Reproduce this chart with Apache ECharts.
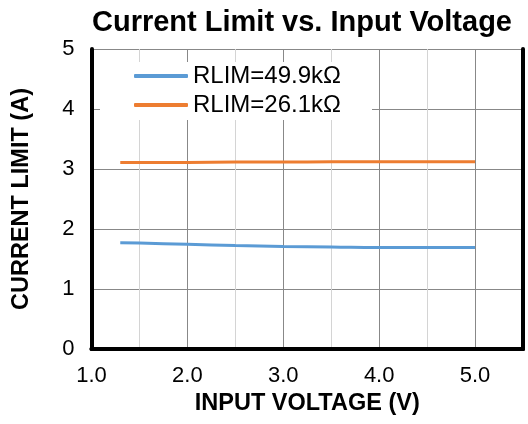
<!DOCTYPE html>
<html>
<head>
<meta charset="utf-8">
<script src="https://cdn.jsdelivr.net/npm/echarts@6/dist/echarts.min.js"></script>
<style>
  html, body { margin: 0; padding: 0; background: #fff; }
  #chart { width: 528px; height: 424px; }
</style>
</head>
<body>
<div id="chart"></div>
<script>
var vin = [1.3, 1.5, 2.0, 2.5, 3.0, 3.5, 4.0, 4.5, 5.0];
var rlim499 = [1.77, 1.765, 1.745, 1.725, 1.71, 1.70, 1.69, 1.69, 1.69];
var rlim261 = [3.11, 3.11, 3.11, 3.115, 3.115, 3.12, 3.12, 3.12, 3.12];
var seriesNames = ['RLIM=49.9kΩ', 'RLIM=26.1kΩ'];

var font = 'Liberation Sans, Arial, sans-serif';
var frame = { show: true, lineStyle: { color: '#000', width: 4 } };

function pairs(xs, ys) {
    return xs.map(function (x, i) { return [x, ys[i]]; });
}

var chart = echarts.init(document.getElementById('chart'));
var option = {
    animation: false,
    backgroundColor: '#fff',
    title: {
        text: 'Current Limit vs. Input Voltage',
        left: 87,
        top: 3,
        textStyle: { fontFamily: font, fontSize: 29, fontWeight: 'bold', color: '#000' }
    },
    legend: {
        data: seriesNames,
        orient: 'vertical',
        left: 100,
        top: 62,
        padding: [2, 31, 3, 34],
        itemGap: 5,
        itemWidth: 54,
        itemHeight: 4,
        backgroundColor: '#fff',
        textStyle: { fontFamily: font, fontSize: 24, color: '#000' },
        icon: 'roundRect'
    },
    grid: {
        left: 91.5,
        right: 5,
        top: 49,
        bottom: 75,
        outerBoundsMode: 'none'
    },
    xAxis: [{
        type: 'value',
        min: 1,
        max: 5.5,
        interval: 1,
        name: 'INPUT VOLTAGE (V)',
        nameLocation: 'middle',
        nameGap: 43,
        nameTextStyle: { fontFamily: font, fontSize: 23.5, fontWeight: 'bold', color: '#000' },
        axisLine: frame,
        axisTick: { show: false },
        minorTick: { show: false, splitNumber: 2 },
        minorSplitLine: { show: true, lineStyle: { color: '#d4d4d4', width: 1 } },
        splitLine: { show: true, lineStyle: { color: '#888', width: 1 } },
        axisLabel: {
            showMaxLabel: false,
            margin: 16,
            fontFamily: font, fontSize: 22, color: '#000',
            formatter: function (v) { return v.toFixed(1); }
        }
    }, {
        type: 'value',
        position: 'top',
        min: 1,
        max: 5.5,
        axisLine: frame,
        axisTick: { show: false },
        axisLabel: { show: false },
        splitLine: { show: false }
    }],
    yAxis: [{
        type: 'value',
        min: 0,
        max: 5,
        interval: 1,
        name: 'CURRENT LIMIT (A)',
        nameLocation: 'middle',
        nameGap: 58,
        nameTextStyle: { fontFamily: font, fontSize: 23.5, fontWeight: 'bold', color: '#000' },
        axisLine: frame,
        axisTick: { show: false },
        splitLine: { show: true, lineStyle: { color: '#888', width: 1 } },
        axisLabel: { margin: 17, fontFamily: font, fontSize: 22, color: '#000' }
    }, {
        type: 'value',
        position: 'right',
        min: 0,
        max: 5,
        axisLine: frame,
        axisTick: { show: false },
        axisLabel: { show: false },
        splitLine: { show: false }
    }],
    series: [
        {
            name: seriesNames[0],
            type: 'line',
            smooth: true,
            showSymbol: false,
            data: pairs(vin, rlim499),
            itemStyle: { color: '#5B9BD5' },
            lineStyle: { color: '#5B9BD5', width: 3 }
        },
        {
            name: seriesNames[1],
            type: 'line',
            smooth: true,
            showSymbol: false,
            data: pairs(vin, rlim261),
            itemStyle: { color: '#ED7D31' },
            lineStyle: { color: '#ED7D31', width: 3 }
        }
    ]
};
chart.setOption(option);
</script>
</body>
</html>
